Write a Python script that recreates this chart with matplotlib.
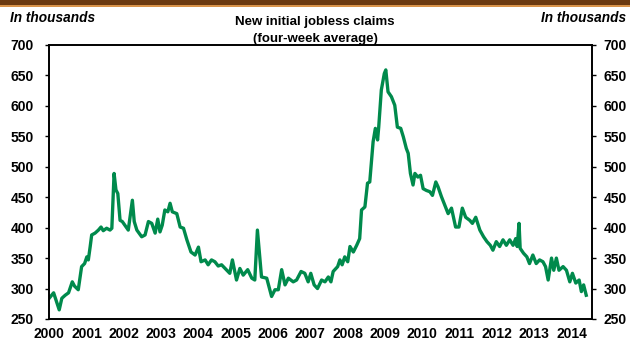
import matplotlib
matplotlib.use("Agg")
import matplotlib.pyplot as plt
from matplotlib.patches import Rectangle

plt.rcParams["font.family"] = ["Liberation Sans", "DejaVu Sans"]

# weekly-ish trace of the 4-week average (thousands)
dates = [
    2000.00, 2000.12, 2000.21, 2000.27, 2000.34, 2000.43, 2000.52, 2000.62, 2000.68, 2000.78,
    2000.87, 2000.95, 2001.01, 2001.05, 2001.10, 2001.14, 2001.23, 2001.32, 2001.39, 2001.45,
    2001.54, 2001.63, 2001.68, 2001.74, 2001.79, 2001.84, 2001.90, 2001.96, 2002.03, 2002.12,
    2002.23, 2002.28, 2002.35, 2002.48, 2002.57, 2002.66, 2002.75, 2002.84, 2002.91, 2002.97,
    2003.03, 2003.10, 2003.18, 2003.24, 2003.30, 2003.42, 2003.51, 2003.60, 2003.69, 2003.80,
    2003.91, 2004.00, 2004.07, 2004.18, 2004.26, 2004.35, 2004.44, 2004.53, 2004.62, 2004.76,
    2004.84, 2004.91, 2005.02, 2005.11, 2005.20, 2005.32, 2005.43, 2005.51, 2005.58, 2005.69,
    2005.83, 2005.96, 2006.05, 2006.14, 2006.23, 2006.32, 2006.41, 2006.54, 2006.63, 2006.75,
    2006.85, 2006.94, 2007.01, 2007.10, 2007.19, 2007.30, 2007.39, 2007.48, 2007.55, 2007.61,
    2007.73, 2007.79, 2007.85, 2007.92, 2008.00, 2008.06, 2008.15, 2008.24, 2008.32, 2008.37,
    2008.46, 2008.53, 2008.59, 2008.68, 2008.74, 2008.80, 2008.83, 2008.90, 2008.98, 2009.02,
    2009.08, 2009.17, 2009.26, 2009.33, 2009.42, 2009.49, 2009.57, 2009.62, 2009.68, 2009.75,
    2009.80, 2009.88, 2009.95, 2010.02, 2010.11, 2010.20, 2010.27, 2010.36, 2010.42, 2010.51,
    2010.60, 2010.69, 2010.78, 2010.89, 2010.98, 2011.07, 2011.16, 2011.27, 2011.34, 2011.43,
    2011.54, 2011.64, 2011.73, 2011.82, 2011.89, 2011.98, 2012.07, 2012.16, 2012.25, 2012.34,
    2012.43, 2012.50, 2012.54, 2012.59, 2012.62, 2012.71, 2012.80, 2012.87, 2012.96, 2013.05,
    2013.14, 2013.23, 2013.30, 2013.37, 2013.46, 2013.52, 2013.59, 2013.66, 2013.77, 2013.86,
    2013.95, 2014.02, 2014.11, 2014.20, 2014.26, 2014.32, 2014.39,
]
claims = [
    284, 293, 276, 265, 284, 289, 293, 311, 304, 298,
    336, 341, 352, 347, 369, 388, 391, 396, 401, 395,
    399, 396, 399, 489, 462, 456, 412, 410, 404, 396,
    445, 410, 396, 385, 388, 410, 407, 391, 414, 393,
    404, 429, 426, 440, 426, 423, 401, 399, 380, 360,
    355, 368, 344, 347, 339, 347, 344, 337, 339, 330,
    325, 347, 314, 333, 322, 331, 317, 314, 396, 319,
    317, 287, 298, 298, 331, 306, 317, 311, 314, 328,
    325, 311, 325, 306, 300, 314, 311, 319, 311, 328,
    336, 347, 339, 352, 344, 369, 360, 371, 382, 429,
    434, 473, 475, 541, 563, 544, 565, 626, 653, 659,
    623, 615, 601, 565, 563, 549, 530, 522, 489, 470,
    489, 483, 486, 464, 461, 459, 453, 475, 467, 451,
    437, 423, 432, 401, 401, 432, 417, 412, 407, 417,
    396, 385, 377, 371, 363, 377, 369, 380, 371, 380,
    371, 382, 369, 407, 366, 358, 352, 341, 355, 341,
    347, 344, 336, 314, 350, 330, 350, 330, 336, 330,
    311, 325, 309, 314, 295, 306, 289,
]
years = list(range(2000, 2015))
yticks = [250, 300, 350, 400, 450, 500, 550, 600, 650, 700]

fig = plt.figure(figsize=(6.3, 3.43), dpi=100)
ax = fig.add_axes([0.078, 0.070, 0.862, 0.799])

# brown band across the top
fig.patches.append(Rectangle((0, 0.985), 1, 0.015, transform=fig.transFigure,
                             facecolor="#6b3a10", edgecolor="none"))
fig.patches.append(Rectangle((0, 0.981), 1, 0.005, transform=fig.transFigure,
                             facecolor="#d9944a", edgecolor="none"))

ax.plot(dates, claims, color="#008a4c", lw=2.4, solid_joinstyle="round")

ax.set_xlim(2000.0, 2014.55)
ax.set_ylim(250, 700)
ax.set_yticks(yticks)
ax.set_xticks(years)
ax.set_xticklabels([str(y) for y in years], fontweight="bold")
ax.set_yticklabels([str(v) for v in yticks], fontweight="bold")
ax.tick_params(axis="y", direction="out", length=3, width=1,
               labelsize=10, pad=8)
ax.tick_params(axis="x", length=0, labelsize=10, pad=6)

# right-hand axis mirrors the left one
ax2 = ax.twinx()
ax2.set_ylim(250, 700)
ax2.set_yticks(yticks)
ax2.set_yticklabels([str(v) for v in yticks], fontweight="bold")
ax2.tick_params(axis="y", direction="out", length=3, width=1,
                labelsize=10, pad=5)

for a in (ax, ax2):
    for s in a.spines.values():
        s.set_linewidth(1.2)
        s.set_color("black")

fig.text(0.5, 0.935, "New initial jobless claims", ha="center", va="center",
         fontsize=9.5, fontweight="bold")
fig.text(0.5, 0.887, "(four-week average)", ha="center", va="center",
         fontsize=9.5, fontweight="bold")
fig.text(0.016, 0.948, "In thousands", ha="left", va="center", fontsize=9.8,
         fontweight="bold", style="italic")
fig.text(0.994, 0.948, "In thousands", ha="right", va="center", fontsize=9.8,
         fontweight="bold", style="italic")

fig.savefig("out.png", dpi=100)
